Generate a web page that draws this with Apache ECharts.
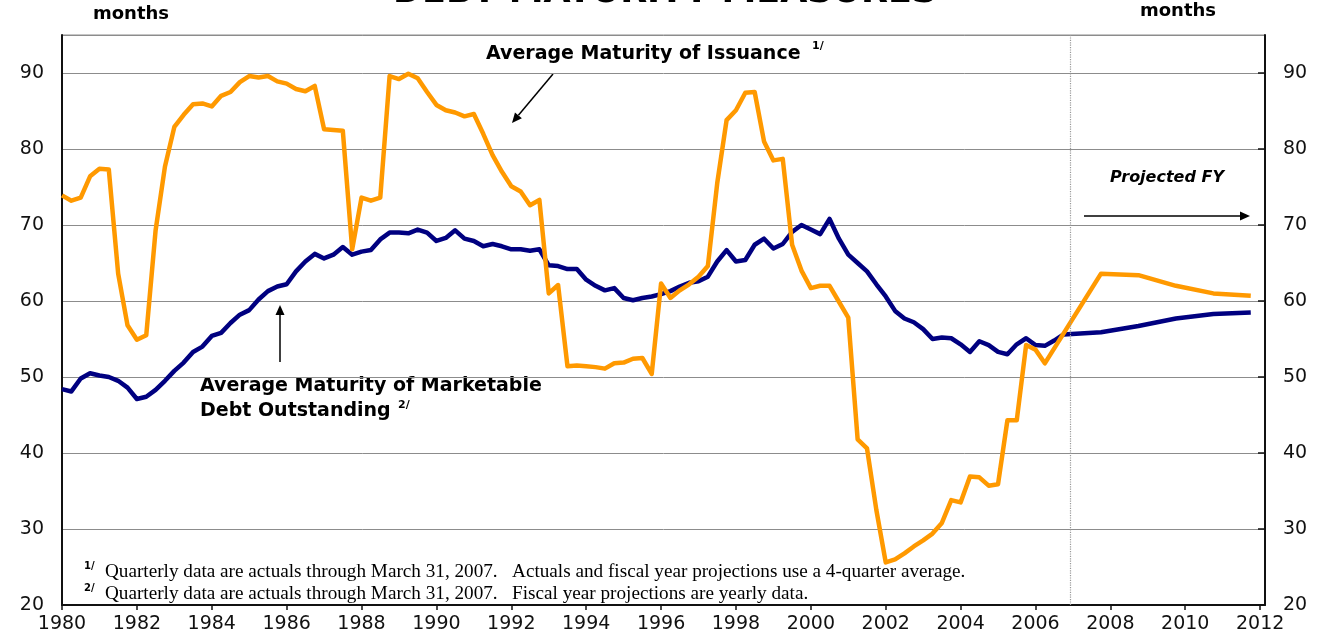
<!DOCTYPE html>
<html>
<head>
<meta charset="utf-8">
<script src="https://cdn.jsdelivr.net/npm/echarts@6/dist/echarts.min.js"></script>
<style>
html,body{margin:0;padding:0;background:#fff;}
#chart{width:1322px;height:641px;}
</style>
</head>
<body>
<div id="chart"></div>
<script>
// ---------------- DATA ----------------
const quarterYears = [
  1980.00,1980.25,1980.50,1980.75, 1981.00,1981.25,1981.50,1981.75,
  1982.00,1982.25,1982.50,1982.75, 1983.00,1983.25,1983.50,1983.75,
  1984.00,1984.25,1984.50,1984.75, 1985.00,1985.25,1985.50,1985.75,
  1986.00,1986.25,1986.50,1986.75, 1987.00,1987.25,1987.50,1987.75,
  1988.00,1988.25,1988.50,1988.75, 1989.00,1989.25,1989.50,1989.75,
  1990.00,1990.25,1990.50,1990.75, 1991.00,1991.25,1991.50,1991.75,
  1992.00,1992.25,1992.50,1992.75, 1993.00,1993.25,1993.50,1993.75,
  1994.00,1994.25,1994.50,1994.75, 1995.00,1995.25,1995.50,1995.75,
  1996.00,1996.25,1996.50,1996.75, 1997.00,1997.25,1997.50,1997.75,
  1998.00,1998.25,1998.50,1998.75, 1999.00,1999.25,1999.50,1999.75,
  2000.00,2000.25,2000.50,2000.75, 2001.00,2001.25,2001.50,2001.75,
  2002.00,2002.25,2002.50,2002.75, 2003.00,2003.25,2003.50,2003.75,
  2004.00,2004.25,2004.50,2004.75, 2005.00,2005.25,2005.50,2005.75,
  2006.00,2006.25,2006.50,2006.75
];
// Average Maturity of Issuance (quarterly, 4-quarter average)
const issuanceQuarterly = [
  73.9,73.2,73.6,76.4, 77.4,77.3,63.6,56.8,
  54.9,55.5,69.3,77.7, 82.9,84.5,85.9,86.0,
  85.6,87.0,87.5,88.8, 89.6,89.4,89.6,88.9,
  88.6,87.9,87.6,88.3, 82.6,82.5,82.4,66.8,
  73.6,73.2,73.6,89.6, 89.2,89.9,89.3,87.5,
  85.8,85.1,84.8,84.3, 84.6,82.0,79.2,77.0,
  75.1,74.4,72.6,73.3, 61.0,62.1,51.4,51.5,
  51.4,51.3,51.1,51.8, 51.9,52.4,52.5,50.4,
  62.3,60.4,61.4,62.2, 63.2,64.6,75.5,83.8,
  85.1,87.4,87.5,81.0, 78.5,78.7,67.4,64.0,
  61.7,62.0,62.0,59.9, 57.8,41.8,40.6,32.5,
  25.6,26.0,26.8,27.7, 28.5,29.4,30.8,33.8,
  33.5,36.9,36.8,35.7, 35.9,44.3,44.3,54.2,
  53.6,51.8
];
// Average Maturity of Marketable Debt Outstanding (quarterly)
const outstandingQuarterly = [
  48.4,48.1,49.8,50.5, 50.2,50.0,49.5,48.6,
  47.1,47.4,48.3,49.5, 50.8,51.9,53.3,54.0,
  55.4,55.8,57.1,58.2, 58.8,60.2,61.3,61.9,
  62.2,63.9,65.2,66.2, 65.6,66.1,67.1,66.1,
  66.5,66.7,68.1,69.0, 69.0,68.9,69.4,69.0,
  67.9,68.3,69.3,68.2, 67.9,67.2,67.5,67.2,
  66.8,66.8,66.6,66.8, 64.7,64.6,64.2,64.2,
  62.8,62.0,61.4,61.7, 60.4,60.1,60.4,60.6,
  60.9,61.3,61.9,62.4, 62.6,63.2,65.2,66.7,
  65.2,65.4,67.4,68.2, 66.9,67.5,69.1,70.0,
  69.4,68.8,70.8,68.2, 66.1,65.0,63.9,62.2,
  60.6,58.7,57.7,57.2, 56.3,55.0,55.2,55.1,
  54.3,53.3,54.7,54.2, 53.3,53.0,54.3,55.1,
  54.2,54.1,54.8,55.6
];
// Fiscal-year projections
const fyYears = [2007.75, 2008.75, 2009.75, 2010.75, 2011.75];
const issuanceFY = [63.6, 63.4, 62.0, 61.0, 60.7];
const outstandingFY = [55.9, 56.7, 57.7, 58.3, 58.5];

const projectionStart = 2006.92;   // end of actuals (dotted divider)
const xTickLabels = [1980,1982,1984,1986,1988,1990,1992,1994,1996,1998,2000,2002,2004,2006,2008,2010,2012];
const yTickLabels = [20,30,40,50,60,70,80,90];

// ---------------- BUILD ----------------
function pairs(xs, ys){ const out=[]; for(let i=0;i<ys.length;i++) out.push([xs[i], ys[i]]); return out; }
const issuanceData = pairs(quarterYears, issuanceQuarterly).concat(pairs(fyYears, issuanceFY));
const outstandingData = pairs(quarterYears, outstandingQuarterly).concat(pairs(fyYears, outstandingFY));

const FONT = '"DejaVu Sans", Arial, sans-serif';
const SERIF = '"Liberation Serif", "Times New Roman", serif';

function arrow(x1,y1,x2,y2){
  const dx=x2-x1, dy=y2-y1, L=Math.sqrt(dx*dx+dy*dy);
  const ux=dx/L, uy=dy/L, px=-uy, py=ux, hl=10, hw=4.5;
  const bx=x2-ux*hl, by=y2-uy*hl;
  return [
    {type:'line', shape:{x1:x1,y1:y1,x2:bx,y2:by}, style:{stroke:'#000', lineWidth:1.5}, silent:true},
    {type:'polygon', shape:{points:[[x2,y2],[bx+px*hw,by+py*hw],[bx-px*hw,by-py*hw]]}, style:{fill:'#000'}, silent:true}
  ];
}
function txt(x,y,text,font,align,extra){
  return Object.assign({type:'text', x:x, y:y, silent:true,
    style:{text:text, font:font, fill:'#000', textAlign:align||'left', textVerticalAlign:'middle'}}, extra||{});
}

const graphics = [
  txt(665,-7,'DEBT MATURITY MEASURES','bold 35px '+FONT,'center'),
  txt(131,14,'months','bold 18px '+FONT,'center'),
  txt(1178,11,'months','bold 18px '+FONT,'center'),
  txt(486,54,'Average Maturity of Issuance','bold 19px '+FONT,'left'),
  txt(812,46,'1/','bold 11px '+FONT,'left'),
  txt(200,386,'Average Maturity of Marketable','bold 19px '+FONT,'left'),
  txt(200,411,'Debt Outstanding','bold 19px '+FONT,'left'),
  txt(398,405,'2/','bold 11px '+FONT,'left'),
  txt(1110,178,'Projected FY','italic bold 16px '+FONT,'left'),
  txt(84,566,'1/','bold 10px '+FONT,'left'),
  txt(105,572,'Quarterly data are actuals through March 31, 2007.   Actuals and fiscal year projections use a 4-quarter average.','19.2px '+SERIF,'left'),
  txt(84,588,'2/','bold 10px '+FONT,'left'),
  txt(105,594,'Quarterly data are actuals through March 31, 2007.   Fiscal year projections are yearly data.','19.2px '+SERIF,'left')
].concat(arrow(553,74,512,123), arrow(280,362,280,305), arrow(1084,216,1250,216));

const chart = echarts.init(document.getElementById('chart'), null, {renderer:'canvas'});
chart.setOption({
  animation:false,
  backgroundColor:'#fff',
  grid:{left:62, right:57, top:35, bottom:36, show:true, borderColor:'#8c8c8c', borderWidth:1},
  xAxis:{
    type:'value', min:1980, max:2012.13, interval:2,
    axisLine:{show:true, lineStyle:{color:'#111', width:2}},
    axisTick:{show:true, length:5, inside:false, lineStyle:{color:'#111', width:1.5}, customValues:xTickLabels},
    axisLabel:{show:true, customValues:xTickLabels, color:'#111', fontFamily:'DejaVu Sans', fontSize:19, margin:10,
      formatter:v=>String(v)},
    splitLine:{show:false}
  },
  yAxis:[
    {type:'value', position:'left', min:20, max:95, interval:10,
     axisLine:{show:true, lineStyle:{color:'#111', width:2}},
     axisTick:{show:false},
     axisLabel:{customValues:yTickLabels, color:'#111', fontFamily:'DejaVu Sans', fontSize:19, margin:18},
     splitLine:{show:true, lineStyle:{color:'#8c8c8c', width:1}}},
    {type:'value', position:'right', min:20, max:95, interval:10,
     axisLine:{show:true, lineStyle:{color:'#111', width:2}},
     axisTick:{show:true, inside:true, length:7, customValues:yTickLabels, lineStyle:{color:'#111', width:1.5}},
     axisLabel:{customValues:yTickLabels, color:'#111', fontFamily:'DejaVu Sans', fontSize:19, margin:18},
     splitLine:{show:false}}
  ],
  series:[
    {name:'Average Maturity of Marketable Debt Outstanding', type:'line', yAxisIndex:0,
     data:outstandingData, showSymbol:false, symbol:'none',
     lineStyle:{color:'#000080', width:4.5, join:'round'},
     markLine:{silent:true, symbol:['none','none'], label:{show:false},
       lineStyle:{color:'#999', type:'dotted', width:1.2},
       data:[{xAxis:projectionStart}]}},
    {name:'Average Maturity of Issuance', type:'line', yAxisIndex:0,
     data:issuanceData, showSymbol:false, symbol:'none',
     lineStyle:{color:'#FF9900', width:4.5, join:'round'}}
  ],
  graphic:graphics
});
</script>
</body>
</html>
